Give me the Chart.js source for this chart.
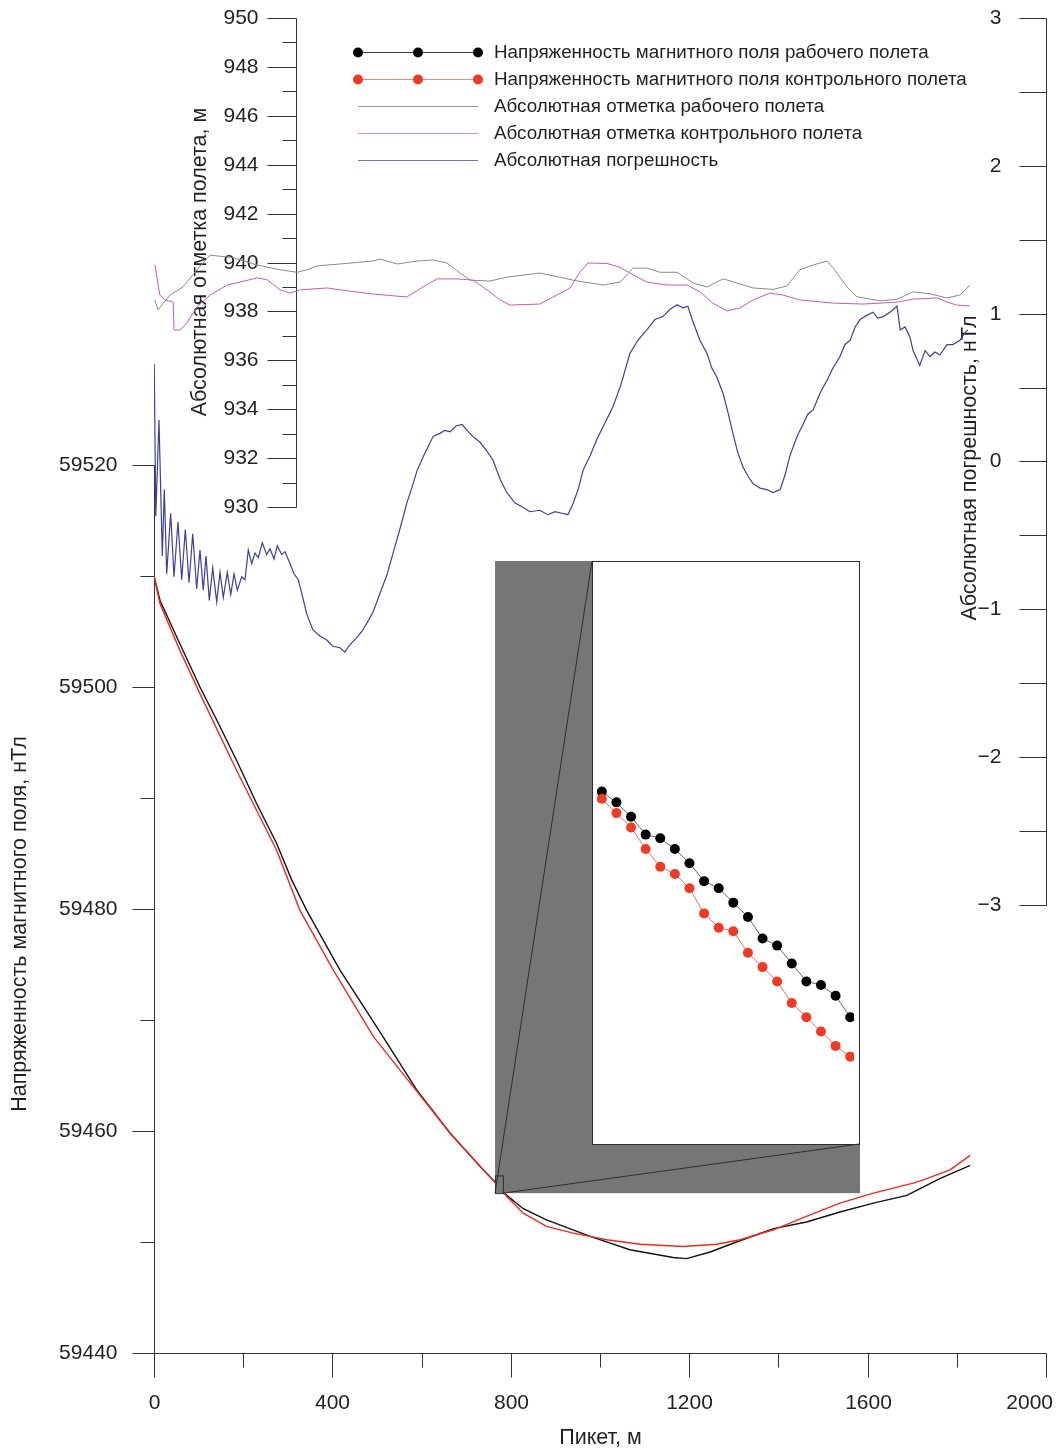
<!DOCTYPE html>
<html>
<head>
<meta charset="utf-8">
<script src="https://cdn.jsdelivr.net/npm/chart.js@4.4.0/dist/chart.umd.min.js"></script>
<style>
    html, body { margin: 0; background: #fff; }
    #wrap { position: relative; width: 1056px; height: 1449px; }
    #inset { position: absolute; left: 592px; top: 561px; }
</style>
</head>
<body>
<div id="wrap">
    <canvas id="main" width="1056" height="1449"></canvas>
    <canvas id="inset" width="267" height="583"></canvas>
</div>
<script>
// magnetic field, working flight (nT) vs picket (m)
const magWorkX = [0, 13.5, 58, 103, 141, 185, 230, 275, 309, 342, 417, 499, 589, 664, 738, 765, 791, 828, 880, 978, 1067, 1164, 1194, 1247, 1306, 1389, 1463, 1538, 1613, 1688, 1762, 1830];
const magWork = [59510.0, 59507.8, 59503.9, 59500.0, 59497.0, 59493.4, 59489.5, 59485.9, 59482.6, 59479.9, 59474.5, 59469.4, 59463.7, 59459.8, 59456.5, 59455.4, 59454.2, 59453.0, 59452.0, 59450.5, 59449.3, 59448.6, 59448.5, 59449.1, 59450.0, 59451.2, 59451.8, 59452.7, 59453.5, 59454.2, 59455.7, 59456.9];

// magnetic field, control flight
const magCtrlX = [0, 13.5, 58, 103, 185, 275, 327, 402, 492, 581, 664, 765, 791, 828, 880, 940, 1015, 1090, 1187, 1262, 1314, 1389, 1463, 1538, 1613, 1702, 1725, 1785, 1830];
const magCtrl = [59510.0, 59507.5, 59503.3, 59499.4, 59492.5, 59485.3, 59479.9, 59474.5, 59468.5, 59464.0, 59459.8, 59455.35, 59454.1, 59452.6, 59451.4, 59450.8, 59450.2, 59449.8, 59449.6, 59449.8, 59450.2, 59451.1, 59452.3, 59453.5, 59454.4, 59455.3, 59455.6, 59456.5, 59457.8];

// flight altitude, working flight (m)
const altWorkX = [2, 9, 36, 65, 96, 126, 177, 231, 283, 321, 343, 365, 417, 491, 507, 545, 590, 626, 657, 686, 709, 753, 791, 865, 910, 939, 978, 1007, 1045, 1074, 1105, 1135, 1173, 1209, 1240, 1276, 1307, 1343, 1388, 1419, 1448, 1478, 1509, 1522, 1554, 1576, 1628, 1666, 1702, 1740, 1778, 1807, 1830];
const altWork = [938.47, 938.06, 938.67, 939.0, 939.7, 940.3, 940.2, 939.9, 939.7, 939.6, 939.7, 939.86, 939.94, 940.06, 940.14, 939.94, 940.06, 940.1, 939.98, 939.57, 939.28, 939.24, 939.4, 939.57, 939.4, 939.28, 939.16, 939.08, 939.2, 939.77, 939.77, 939.6, 939.6, 939.16, 939.0, 939.33, 939.16, 938.96, 938.9, 939.04, 939.7, 939.9, 940.06, 939.8, 939.0, 938.6, 938.43, 938.5, 938.8, 938.72, 938.55, 938.67, 939.08];

// flight altitude, control flight
const altCtrlX = [2, 13, 25, 43, 45, 58, 74, 96, 126, 164, 193, 231, 253, 283, 305, 327, 388, 417, 491, 567, 603, 635, 679, 715, 747, 776, 798, 865, 895, 933, 955, 973, 1016, 1045, 1074, 1105, 1150, 1195, 1224, 1253, 1285, 1314, 1343, 1381, 1410, 1448, 1522, 1590, 1666, 1702, 1756, 1778, 1800, 1830];
const altCtrl = [939.9, 938.67, 938.47, 938.38, 937.24, 937.24, 937.53, 938.18, 938.67, 939.08, 939.2, 939.37, 939.3, 938.88, 938.75, 938.88, 938.96, 938.88, 938.71, 938.59, 939.0, 939.33, 939.33, 939.28, 938.88, 938.47, 938.26, 938.3, 938.59, 938.96, 939.61, 939.98, 939.96, 939.8, 939.5, 939.2, 939.08, 939.08, 938.8, 938.34, 938.02, 938.14, 938.47, 938.75, 938.67, 938.47, 938.34, 938.3, 938.38, 938.5, 938.55, 938.38, 938.26, 938.22];

// absolute error (nT)
const errX = [0.5, 4, 11.2, 18.6, 23.1, 28.5, 37.4, 44.8, 53.8, 62.1, 70.2, 78.5, 86.8, 95.7, 103.1, 110.5, 116.6, 124.0, 131.6, 140.6, 148.0, 155.4, 164.3, 172.0, 179.4, 186.8, 196.6, 204.0, 211.4, 219.1, 226.5, 233.9, 242.8, 252.7, 260.1, 269.1, 276.5, 286.3, 293.7, 304.9, 313.9, 323.5, 331.2, 342.4, 349.8, 356.5, 372, 388, 401, 417, 428, 439, 455, 466, 478, 491, 507, 522, 536, 552, 567, 578, 590, 608, 626, 641, 652, 664, 677, 691, 702, 715, 731, 744, 760, 776, 791, 809, 827, 843, 865, 883, 899, 915, 928, 939, 951, 962, 978, 993, 1011, 1029, 1047, 1067, 1085, 1105, 1123, 1141, 1157, 1173, 1186, 1197, 1209, 1224, 1240, 1251, 1262, 1276, 1287, 1298, 1309, 1321, 1332, 1343, 1359, 1374, 1388, 1404, 1415, 1426, 1442, 1455, 1466, 1478, 1493, 1509, 1522, 1538, 1549, 1561, 1572, 1583, 1599, 1612, 1623, 1635, 1650, 1666, 1673, 1684, 1695, 1702, 1711, 1717, 1729, 1740, 1751, 1762, 1778, 1791, 1807, 1818, 1825];
const errVal = [0.66, -0.37, 0.28, -0.64, -0.19, -0.76, -0.35, -0.78, -0.41, -0.80, -0.46, -0.82, -0.49, -0.86, -0.60, -0.87, -0.64, -0.94, -0.72, -0.95, -0.75, -0.92, -0.75, -0.90, -0.76, -0.87, -0.78, -0.80, -0.60, -0.69, -0.62, -0.65, -0.55, -0.63, -0.59, -0.66, -0.57, -0.63, -0.61, -0.69, -0.76, -0.80, -0.89, -1.03, -1.09, -1.14, -1.18, -1.21, -1.25, -1.26, -1.29, -1.24, -1.19, -1.15, -1.09, -1.02, -0.89, -0.77, -0.62, -0.45, -0.28, -0.18, -0.06, 0.06, 0.17, 0.19, 0.21, 0.20, 0.24, 0.25, 0.21, 0.17, 0.13, 0.08, 0.01, -0.12, -0.21, -0.28, -0.31, -0.34, -0.33, -0.36, -0.34, -0.35, -0.36, -0.29, -0.19, -0.06, 0.04, 0.15, 0.26, 0.37, 0.52, 0.73, 0.82, 0.89, 0.96, 0.98, 1.03, 1.06, 1.04, 1.05, 0.94, 0.82, 0.73, 0.63, 0.57, 0.46, 0.33, 0.19, 0.06, -0.04, -0.10, -0.15, -0.18, -0.19, -0.21, -0.19, -0.09, 0.04, 0.17, 0.25, 0.32, 0.35, 0.46, 0.55, 0.63, 0.71, 0.79, 0.82, 0.91, 0.96, 0.99, 1.01, 0.97, 0.98, 1.01, 1.05, 0.89, 0.91, 0.84, 0.75, 0.69, 0.65, 0.75, 0.71, 0.74, 0.72, 0.79, 0.79, 0.82, 0.87, 0.89];

// zoomed fragment (every metre)
const zoomX = [765, 766, 767, 768, 769, 770, 771, 772, 773, 774, 775, 776, 777, 778, 779, 780, 781, 782];
const zoomWork = [59455.37, 59455.34, 59455.30, 59455.25, 59455.24, 59455.21, 59455.17, 59455.12, 59455.10, 59455.06, 59455.02, 59454.96, 59454.94, 59454.89, 59454.84, 59454.83, 59454.80, 59454.74];
const zoomCtrl = [59455.35, 59455.31, 59455.27, 59455.21, 59455.16, 59455.14, 59455.10, 59455.03, 59454.99, 59454.98, 59454.92, 59454.88, 59454.84, 59454.78, 59454.74, 59454.70, 59454.66, 59454.63];

// axis ticks
const xTicks = [0, 400, 800, 1200, 1600, 2000];
const xMinor = [200, 600, 1000, 1400, 1800];
const magTicks = [59440, 59460, 59480, 59500, 59520];
const magMinor = [59450, 59470, 59490, 59510];
const altTicks = [930, 932, 934, 936, 938, 940, 942, 944, 946, 948, 950];
const altMinor = [931, 933, 935, 937, 939, 941, 943, 945, 947, 949];
const errTicks = [-3, -2, -1, 0, 1, 2, 3];
const errMinor = [-2.5, -1.5, -0.5, 0.5, 1.5, 2.5];

const legendLabels = [
    'Напряженность магнитного поля рабочего полета',
    'Напряженность магнитного поля контрольного полета',
    'Абсолютная отметка рабочего полета',
    'Абсолютная отметка контрольного полета',
    'Абсолютная погрешность'
];

const ink = '#231f20';
const axisColor = '#333333';
const tickFont = '21px "Liberation Sans", Arial, sans-serif';
const titleFont = '21.5px "Liberation Sans", Arial, sans-serif';
const legendFont = '18.8px "Liberation Sans", Arial, sans-serif';

const colWork = '#111111';
const colCtrl = '#ee2a1b';
const colAltWork = '#8a8a8a';
const colAltCtrl = '#c45bb5';
const colErr = '#3b3f9e';

// inset window in data units and its place on the page
const insetX = [764.67, 782.26];
const insetY = [59454.4, 59456.0];
const insetBox = { l: 592, t: 561, r: 859, b: 1144 };

function toXY(xs, ys) {
    return xs.map((x, i) => ({ x: x, y: ys[i] }));
}

function seg(ctx, x1, y1, x2, y2) {
    ctx.beginPath();
    ctx.moveTo(x1, y1);
    ctx.lineTo(x2, y2);
    ctx.stroke();
}

function fmt(v) {
    return v < 0 ? '\u2212' + Math.abs(v) : String(v);
}

function vertTitle(ctx, text, x, y) {
    ctx.save();
    ctx.translate(x, y);
    ctx.rotate(-Math.PI / 2);
    ctx.textAlign = 'center';
    ctx.textBaseline = 'middle';
    ctx.fillText(text, 0, 0);
    ctx.restore();
}

const axesPlugin = {
    id: 'axes',
    beforeDatasetsDraw(chart) {
        const ctx = chart.ctx;
        const sx = chart.scales.x;
        const sm = chart.scales.yMag;
        const sa = chart.scales.yAlt;
        const se = chart.scales.yErr;
        ctx.save();
        ctx.strokeStyle = axisColor;
        ctx.lineWidth = 1;
        ctx.fillStyle = ink;
        ctx.font = tickFont;

        // bottom axis
        const xl = Math.round(sx.getPixelForValue(0)) + 0.5;
        const xr = Math.round(sx.getPixelForValue(2000)) + 0.5;
        const yb = Math.round(sm.getPixelForValue(59440)) + 0.5;
        seg(ctx, xl, yb, xr, yb);
        ctx.textAlign = 'center';
        ctx.textBaseline = 'middle';
        xTicks.forEach(v => {
            const p = Math.round(sx.getPixelForValue(v)) + 0.5;
            seg(ctx, p, yb, p, yb + 24);
            const w = ctx.measureText(fmt(v)).width;
            const cx = Math.min(p, chart.width - 3 - w / 2);
            ctx.fillText(fmt(v), cx, yb + 50);
        });
        xMinor.forEach(v => {
            const p = Math.round(sx.getPixelForValue(v)) + 0.5;
            seg(ctx, p, yb, p, yb + 14);
        });

        // magnetic field axis
        const ytop = Math.round(sm.getPixelForValue(59520)) + 0.5;
        seg(ctx, xl, ytop, xl, yb);
        ctx.textAlign = 'right';
        magTicks.forEach(v => {
            const p = Math.round(sm.getPixelForValue(v)) + 0.5;
            seg(ctx, xl - 22, p, xl, p);
            ctx.fillText(fmt(v), xl - 37, p);
        });
        magMinor.forEach(v => {
            const p = Math.round(sm.getPixelForValue(v)) + 0.5;
            seg(ctx, xl - 14, p, xl, p);
        });

        // altitude axis
        const xa = 296.5;
        seg(ctx, xa, Math.round(sa.getPixelForValue(950)) + 0.5, xa, Math.round(sa.getPixelForValue(930)) + 0.5);
        altTicks.forEach(v => {
            const p = Math.round(sa.getPixelForValue(v)) + 0.5;
            seg(ctx, xa - 29, p, xa, p);
            ctx.fillText(fmt(v), xa - 38, p);
        });
        altMinor.forEach(v => {
            const p = Math.round(sa.getPixelForValue(v)) + 0.5;
            seg(ctx, xa - 14, p, xa, p);
        });

        // error axis (right)
        seg(ctx, xr, Math.round(se.getPixelForValue(3)) + 0.5, xr, Math.round(se.getPixelForValue(-3)) + 0.5);
        errTicks.forEach(v => {
            const p = Math.round(se.getPixelForValue(v)) + 0.5;
            seg(ctx, xr - 27, p, xr, p);
            ctx.fillText(fmt(v), xr - 45, p);
        });
        errMinor.forEach(v => {
            const p = Math.round(se.getPixelForValue(v)) + 0.5;
            seg(ctx, xr - 27, p, xr, p);
        });

        // titles
        ctx.font = titleFont;
        ctx.textAlign = 'center';
        ctx.fillText('Пикет, м', (xl + xr) / 2, 1438);
        vertTitle(ctx, 'Напряженность магнитного поля, нТл', 20, 924);
        vertTitle(ctx, 'Абсолютная отметка полета, м', 200, 262);
        vertTitle(ctx, 'Абсолютная погрешность, нТл', 970, 468);
        ctx.restore();
    }
};

const framePlugin = {
    id: 'zoomFrame',
    afterDatasetsDraw(chart) {
        const ctx = chart.ctx;
        const sx = chart.scales.x;
        const sm = chart.scales.yMag;
        const x0 = sx.getPixelForValue(insetX[0]);
        const x1 = sx.getPixelForValue(insetX[1]);
        const y0 = sm.getPixelForValue(insetY[1]);
        const y1 = sm.getPixelForValue(insetY[0]);
        const b = insetBox;
        ctx.save();
        ctx.fillStyle = '#767677';
        ctx.fillRect(x0, b.t, b.r + 1 - x0, y1 - b.t);
        ctx.fillStyle = '#ffffff';
        ctx.fillRect(b.l, b.t, b.r - b.l, b.b - b.t);
        ctx.strokeStyle = '#2e2e2e';
        ctx.lineWidth = 1;
        ctx.strokeRect(b.l + 0.5, b.t + 0.5, b.r - b.l, b.b - b.t);
        ctx.strokeRect(x0 + 0.5, y0 + 0.5, x1 - x0, y1 - y0);
        seg(ctx, x0, y1, b.l, b.t);
        seg(ctx, x1, y1, b.r, b.b);
        ctx.restore();
    }
};

const legendPlugin = {
    id: 'customLegend',
    afterDraw(chart) {
        const ctx = chart.ctx;
        const rows = [
            { line: '#3a3a3a', dot: '#000000' },
            { line: '#f3857a', dot: '#ee3b24' },
            { line: '#999999', dot: null },
            { line: '#d08ccc', dot: null },
            { line: '#7475b4', dot: null }
        ];
        ctx.save();
        ctx.font = legendFont;
        ctx.textAlign = 'left';
        ctx.textBaseline = 'middle';
        rows.forEach((r, i) => {
            const y = 52.5 + i * 27;
            ctx.strokeStyle = r.line;
            ctx.lineWidth = 1;
            seg(ctx, 358, y, 478, y);
            if (r.dot) {
                ctx.fillStyle = r.dot;
                [358, 418, 478].forEach(x => {
                    ctx.beginPath();
                    ctx.arc(x, y, 5, 0, Math.PI * 2);
                    ctx.fill();
                });
            }
            ctx.fillStyle = ink;
            ctx.fillText(legendLabels[i], 494, y);
        });
        ctx.restore();
    }
};

const lineDefaults = { pointRadius: 0, tension: 0, fill: false };

new Chart(document.getElementById('main'), {
    type: 'line',
    data: {
        datasets: [
            Object.assign({ label: legendLabels[1], data: toXY(magCtrlX, magCtrl), yAxisID: 'yMag', borderColor: colCtrl, borderWidth: 1.4 }, lineDefaults),
            Object.assign({ label: legendLabels[0], data: toXY(magWorkX, magWork), yAxisID: 'yMag', borderColor: colWork, borderWidth: 1.4 }, lineDefaults),
            Object.assign({ label: legendLabels[4], data: toXY(errX, errVal), yAxisID: 'yErr', borderColor: colErr, borderWidth: 1.2 }, lineDefaults),
            Object.assign({ label: legendLabels[3], data: toXY(altCtrlX, altCtrl), yAxisID: 'yAlt', borderColor: colAltCtrl, borderWidth: 1 }, lineDefaults),
            Object.assign({ label: legendLabels[2], data: toXY(altWorkX, altWork), yAxisID: 'yAlt', borderColor: colAltWork, borderWidth: 1 }, lineDefaults)
        ]
    },
    options: {
        responsive: false,
        animation: false,
        devicePixelRatio: 1,
        layout: { padding: { left: 154, right: 10, top: 18, bottom: 96 } },
        plugins: { legend: { display: false }, tooltip: { enabled: false } },
        scales: {
            x: { type: 'linear', min: 0, max: 2000, display: false },
            yMag: { type: 'linear', min: 59440, max: 59560.27, display: false },
            yAlt: { type: 'linear', min: 895.4, max: 950, display: false },
            yErr: { type: 'linear', min: -6.031, max: 3, display: false }
        }
    },
    plugins: [axesPlugin, framePlugin, legendPlugin]
});

// zoomed inset
new Chart(document.getElementById('inset'), {
    type: 'line',
    data: {
        datasets: [
            {
                label: legendLabels[1], data: toXY(zoomX, zoomCtrl), order: 0,
                borderColor: '#f36b5d', borderWidth: 1, tension: 0,
                pointRadius: 5, pointBackgroundColor: '#ee3b24', pointBorderWidth: 0
            },
            {
                label: legendLabels[0], data: toXY(zoomX, zoomWork), order: 1,
                borderColor: '#666666', borderWidth: 1, tension: 0,
                pointRadius: 5, pointBackgroundColor: '#000000', pointBorderWidth: 0
            }
        ]
    },
    options: {
        responsive: false,
        animation: false,
        devicePixelRatio: 1,
        layout: { padding: 0 },
        plugins: { legend: { display: false }, tooltip: { enabled: false } },
        scales: {
            x: { type: 'linear', min: insetX[0], max: insetX[1], display: false },
            y: { type: 'linear', min: insetY[0], max: insetY[1], display: false }
        }
    }
});
</script>
</body>
</html>
